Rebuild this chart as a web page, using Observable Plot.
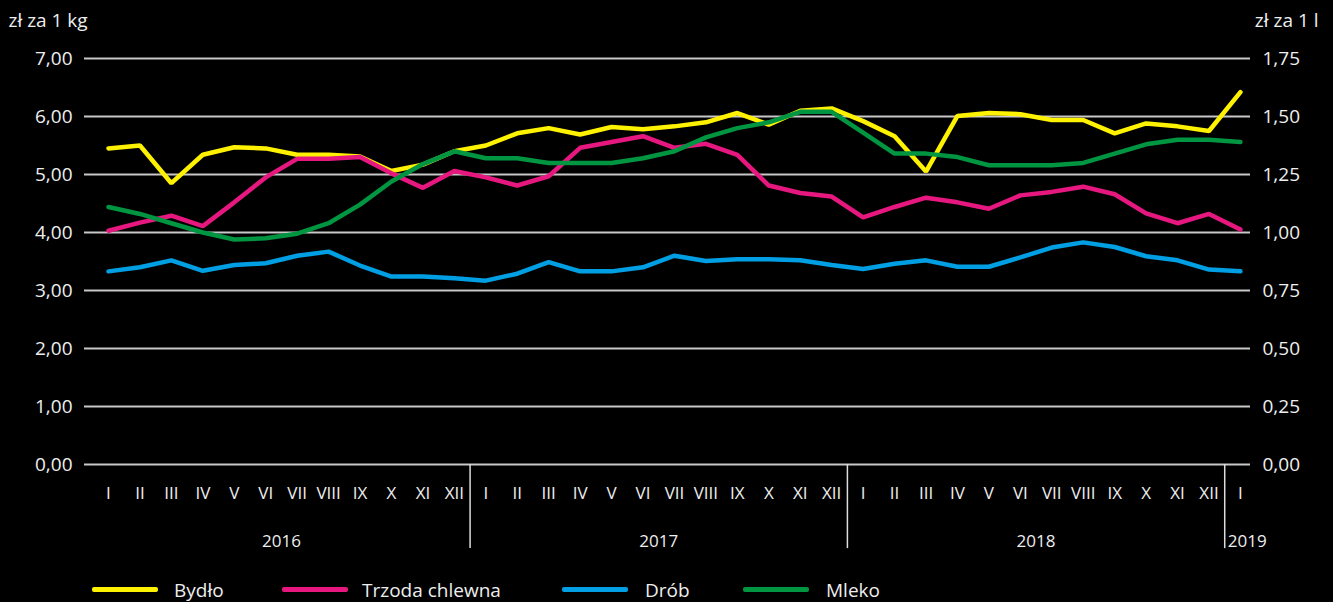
<!DOCTYPE html>
<html>
<head>
<meta charset="utf-8">
<script src="https://cdn.jsdelivr.net/npm/d3@7"></script>
<script src="https://cdn.jsdelivr.net/npm/@observablehq/plot@0.6"></script>
<style>
  html, body { margin: 0; padding: 0; background: #000; }
  body { width: 1333px; height: 602px; overflow: hidden; font-family: "Open Sans", "Noto Sans", sans-serif; }
  #legend { position: relative; height: 30px; color: #eee; font-size: 19px; }
  .sw { position: absolute; top: 15px; width: 66px; height: 5px; border-radius: 2px; }
  .lb { position: absolute; top: 0px; line-height: 36px; }
</style>
</head>
<body>
<div id="chart"></div>
<div id="legend"></div>
<script>
const monthTicks = ["I","II","III","IV","V","VI","VII","VIII","IX","X","XI","XII"];
const years = ["2016","2017","2018","2019"];
const yTicksKg = [0,1,2,3,4,5,6,7];

const bydlo = [5.45,5.50,4.85,5.34,5.47,5.45,5.34,5.34,5.31,5.06,5.17,5.40,
               5.50,5.71,5.80,5.69,5.82,5.78,5.83,5.90,6.06,5.86,6.10,6.14,
               5.92,5.66,5.05,6.01,6.06,6.04,5.94,5.94,5.71,5.88,5.83,5.75,
               6.42];
const trzoda = [4.03,4.17,4.29,4.11,4.52,4.95,5.27,5.27,5.30,5.02,4.77,5.06,
                4.95,4.81,4.97,5.46,5.56,5.66,5.46,5.53,5.34,4.81,4.68,4.62,
                4.26,4.44,4.60,4.52,4.41,4.64,4.70,4.79,4.66,4.33,4.16,4.32,
                4.05];
const drob = [3.33,3.40,3.52,3.34,3.44,3.47,3.60,3.67,3.43,3.24,3.24,3.21,
              3.17,3.29,3.49,3.33,3.33,3.40,3.60,3.51,3.54,3.54,3.52,3.44,
              3.37,3.46,3.52,3.41,3.41,3.57,3.74,3.83,3.75,3.59,3.52,3.36,
              3.33];
// Mleko in zł za 1 l (right axis)
const mleko = [1.11,1.08,1.04,1.00,0.97,0.975,0.995,1.04,1.12,1.22,1.295,1.35,
               1.32,1.32,1.30,1.30,1.30,1.32,1.35,1.41,1.45,1.475,1.52,1.52,
               1.43,1.34,1.34,1.325,1.29,1.29,1.29,1.30,1.34,1.38,1.40,1.40,
               1.39];

const seriesNames = ["Bydło","Trzoda chlewna","Drób","Mleko"];
const seriesColors = ["#fff200","#e6187f","#009fe3","#009540"];
const seriesValues = [bydlo, trzoda, drob, mleko];
const seriesFactor = [1, 1, 1, 4]; // right axis (zł/l) maps to left (zł/kg) x4

const rows = [];
seriesValues.forEach((vals, s) => vals.forEach((v, i) => rows.push({i, y: v * seriesFactor[s], name: seriesNames[s]})));

const n = bydlo.length;
const monthIdx = d3.range(n);
const yearSeps = [11.5, 23.5, 35.5];
const yearPos = [5.5, 17.5, 29.5];
const fmt = d => d.toFixed(2).replace(".", ",");

const chart = Plot.plot({
  width: 1333,
  height: 572,
  marginLeft: 84,
  marginRight: 83,
  marginTop: 58,
  marginBottom: 108,
  style: {background: "#000", color: "#eee", fontFamily: "'Open Sans', 'Noto Sans', sans-serif", fontSize: "18px"},
  x: {domain: [-0.763, 36.32], axis: null},
  y: {domain: [0, 7], axis: null},
  color: {domain: seriesNames, range: seriesColors},
  marks: [
    Plot.ruleY(yTicksKg, {stroke: "#c8c8c8", strokeWidth: 2}),
    Plot.axisY({anchor: "left", ticks: yTicksKg, tickSize: 0, tickPadding: 12, tickFormat: fmt, fontSize: 19, fill: "#eee", label: null}),
    Plot.axisY({anchor: "right", ticks: yTicksKg, tickSize: 0, tickPadding: 12, tickFormat: d => fmt(d / 4), fontSize: 19, fill: "#eee", label: null}),
    Plot.text(monthIdx, {x: d => d, y: 0, text: d => monthTicks[d % 12], dy: 29, fill: "#eee", fontSize: 17}),
    Plot.ruleX(yearSeps, {y1: 0, y2: -1.45, stroke: "#ddd", strokeWidth: 1.5}),
    Plot.text(yearPos, {x: d => d, y: 0, text: (d, k) => years[k], dy: 77, fill: "#eee", fontSize: 17}),
    Plot.text([years[3]], {x: yearSeps[2], y: 0, text: d => d, dy: 77, dx: 3, textAnchor: "start", fill: "#eee", fontSize: 17}),
    Plot.line(rows, {x: "i", y: "y", z: "name", stroke: "name", strokeWidth: 4.5, strokeLinejoin: "miter", curve: "linear"}),
    Plot.text(["zł za 1 kg"], {frameAnchor: "top-left", lineAnchor: "middle", dx: -76, dy: -38, textAnchor: "start", fill: "#eee", fontSize: 19}),
    Plot.text(["zł za 1 l"], {frameAnchor: "top-right", lineAnchor: "middle", dx: 68, dy: -38, textAnchor: "end", fill: "#eee", fontSize: 19})
  ]
});
document.getElementById("chart").appendChild(chart);

const legend = document.getElementById("legend");
const swX = [92, 282, 562, 743];
const lbX = [174, 362, 645, 826];
seriesNames.forEach((name, k) => {
  const sw = document.createElement("span");
  sw.className = "sw"; sw.style.left = swX[k] + "px"; sw.style.background = seriesColors[k];
  legend.appendChild(sw);
  const lb = document.createElement("span");
  lb.className = "lb"; lb.style.left = lbX[k] + "px"; lb.textContent = name;
  legend.appendChild(lb);
});
</script>
</body>
</html>
